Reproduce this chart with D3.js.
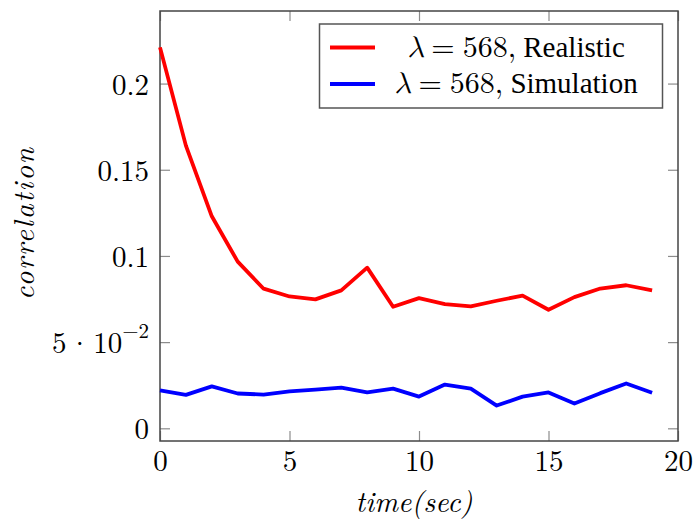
<!DOCTYPE html>
<html><head><meta charset="utf-8">
<script src="https://cdn.jsdelivr.net/npm/d3@7"></script>
<style>body{margin:0;background:#fff}svg{display:block}
svg text{font-family:"Latin Modern Roman","CMU Serif","Liberation Serif",serif;}
svg text .tm{font-family:"Liberation Serif","Tinos","Times New Roman",serif;}
svg text .gr{font-family:"Latin Modern Math","CMU Serif","Latin Modern Roman",serif;font-style:italic;}
</style>
</head><body><svg id="c" width="693" height="523"></svg>
<script>
const times = [0,1,2,3,4,5,6,7,8,9,10,11,12,13,14,15,16,17,18,19];
const realistic = [0.221,0.164,0.123,0.0967,0.081,0.0765,0.0748,0.080,0.0932,0.0705,0.0755,0.0721,0.0707,0.074,0.077,0.0688,0.0761,0.0811,0.0830,0.0800];
const simulation = [0.0220,0.0194,0.0243,0.0202,0.0196,0.0214,0.0224,0.0236,0.0208,0.0230,0.0184,0.0254,0.0230,0.0132,0.0184,0.0208,0.0144,0.0204,0.0260,0.0206];
const xTicks = [0,5,10,15,20];
const yTicks = [0,0.05,0.1,0.15,0.2];
const seriesNames = ["Realistic","Simulation"];
const lambdaVal = 568;
const colors = ["#ff0000","#0000ff"];

const svg = d3.select("#c");
const L=160,R=678,T=11,B=441;
const x = d3.scaleLinear().domain([0,20]).range([L,R]);
const y = d3.scaleLinear().domain([-0.00736,0.2421]).range([B,T]);
const tickCol = "#8c8c8c";

function styleAxis(g){ g.attr("font-family",null); g.select(".domain").remove(); g.selectAll(".tick line").attr("stroke",tickCol).attr("stroke-width",1.2); }

svg.append("g").attr("transform",`translate(0,${B})`)
  .call(d3.axisBottom(x).tickValues(xTicks).tickSize(-10).tickPadding(11).tickFormat(d3.format("d")))
  .call(styleAxis)
  .selectAll("text").attr("font-size",29).attr("fill","#000").attr("dy","0.65em");
svg.append("g").attr("transform",`translate(0,${T})`)
  .call(d3.axisTop(x).tickValues(xTicks).tickSize(-10).tickFormat(""))
  .call(styleAxis);
const yax = svg.append("g").attr("transform",`translate(${L},0)`)
  .call(d3.axisLeft(y).tickValues(yTicks).tickSize(-10).tickPadding(11).tickFormat(d=>d===0?"0":(d===0.05?"":String(d))))
  .call(styleAxis);
yax.selectAll("text").attr("font-size",29).attr("fill","#000").attr("dy","0.36em");
yax.selectAll(".tick").filter(d=>d===0.05).select("text").each(function(){
  const t=d3.select(this);
  t.append("tspan").text("5");
  t.append("tspan").attr("dx",2).text("·");
  t.append("tspan").attr("dx",2).text("10");
  t.append("tspan").attr("font-size",21).attr("dy","-0.7em").text("−2");
});
svg.append("g").attr("transform",`translate(${R},0)`)
  .call(d3.axisRight(y).tickValues(yTicks).tickSize(-10).tickFormat(""))
  .call(styleAxis);

// frame
svg.append("rect").attr("x",L).attr("y",T).attr("width",R-L).attr("height",B-T)
  .attr("fill","none").attr("stroke","#444").attr("stroke-width",1.5);

const line = d3.line().x((d,i)=>x(times[i])).y(d=>y(d));
[realistic,simulation].forEach((s,k)=>{
  svg.append("path").datum(s).attr("d",line).attr("fill","none")
    .attr("stroke",colors[k]).attr("stroke-width",3.8).attr("stroke-linejoin","round");
});

// axis labels
svg.append("text").attr("x",(L+R)/2-5).attr("y",512).attr("text-anchor","middle")
  .attr("font-style","italic").attr("font-size",29)
  .attr("textLength",117).text("time(sec)");
svg.append("text").attr("transform","translate(34,224) rotate(-90)").attr("text-anchor","middle")
  .attr("font-style","italic").attr("font-size",29)
  .attr("textLength",152).text("correlation");

// legend
const lg = svg.append("g");
lg.append("rect").attr("x",319.5).attr("y",24).attr("width",343).attr("height",84)
  .attr("fill","#fff").attr("stroke","#555").attr("stroke-width",1.5);
const rowsY=[47.5,84];
seriesNames.forEach((n,k)=>{
  lg.append("line").attr("x1",330).attr("x2",375).attr("y1",rowsY[k]).attr("y2",rowsY[k])
    .attr("stroke",colors[k]).attr("stroke-width",4);
  const t = lg.append("text").attr("x",516).attr("y",rowsY[k]+9).attr("text-anchor","middle")
    .attr("font-size",30);
  t.append("tspan").attr("class","gr").text("λ");
  t.append("tspan").attr("dx",8).text("=");
  t.append("tspan").attr("dx",8).text(`${lambdaVal},`);
  t.append("tspan").attr("class","tm").attr("font-size",29).text(` ${n}`);
});
</script></body></html>
